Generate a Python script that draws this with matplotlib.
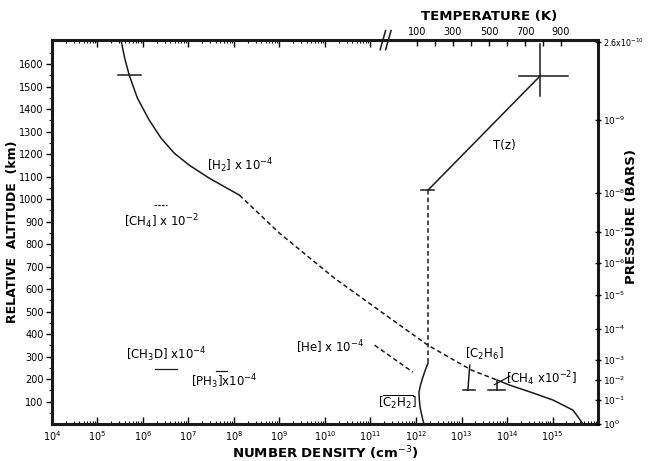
import matplotlib.pyplot as plt
import numpy as np
from matplotlib.ticker import FixedLocator, NullFormatter, NullLocator

# H2 profile, log10 number density vs altitude (km)
h2_upper_logn = [5.52, 5.60, 5.70, 5.88, 6.14, 6.40, 6.69, 7.02, 7.46, 8.12]
h2_upper_alt = [1707, 1627, 1551, 1449, 1351, 1271, 1204, 1151, 1093, 1018]
h2_mid_logn = [8.12, 9.00, 10.2, 11.49, 12.26, 13.22, 13.78]
h2_mid_alt = [1018, 849, 650, 462, 351, 240, 196]
h2_low_logn = [13.78, 14.06, 14.55, 15.01, 15.45, 15.67]
h2_low_alt = [196, 173, 140, 107, 62, 0]

# He profile (dashed segment)
he_logn = [11.09, 11.93]
he_alt = [351, 231]

# temperature profile (K)
t_dash_T = [161, 161]
t_dash_alt = [1040, 271]
t_low_T = [161, 146, 133, 120, 111, 113, 117, 125, 133, 139]
t_low_alt = [271, 240, 209, 175, 142, 110, 76, 45, 18, 0]
t_up_T = [161, 783]
t_up_alt = [1040, 1547]

# pressure axis
p_alt = [1700, 1351, 1027, 853, 716, 573, 422, 284, 196, 107, 0]
p_labels = [r'2.6x10$^{-10}$', r'10$^{-9}$', r'10$^{-8}$', r'10$^{-7}$', r'10$^{-6}$',
            r'10$^{-5}$', r'10$^{-4}$', r'10$^{-3}$', r'10$^{-2}$', r'10$^{-1}$', r'10$^{0}$']

decades = list(range(4, 17))
temp_ticks = [100, 200, 300, 400, 500, 600, 700, 800, 900]

fig = plt.figure(figsize=(6.48, 4.61), dpi=100)
ax = fig.add_axes([0.080, 0.080, 0.843, 0.833])
ax.set_xscale('log')
ax.set_xlim(1e4, 1e16)
ax.set_ylim(0, 1707)

lw = 1.1
k = '#1a1a1a'
ax.plot(10**np.array(h2_upper_logn), h2_upper_alt, color=k, lw=lw)
ax.plot(10**np.array(h2_mid_logn), h2_mid_alt, color=k, lw=lw, ls=(0, (3, 2)))
ax.plot(10**np.array(h2_low_logn), h2_low_alt, color=k, lw=lw)
ax.plot(10**np.array(he_logn), he_alt, color=k, lw=lw, ls=(0, (3, 2)))

# error bars / markers
ax.plot([10**5.45, 10**5.96], [1551, 1551], color=k, lw=lw)
ax.plot([10**6.25, 10**6.54], [973, 973], color=k, lw=0.9, ls=(0, (2, 1)))
ax.plot([10**6.27, 10**6.75], [244, 244], color=k, lw=0.9)
ax.plot([10**7.6, 10**7.85], [235, 235], color=k, lw=0.9)
# C2H6
ax.plot([10**13.18, 10**13.14], [262, 151], color=k, lw=lw)
ax.plot([10**13.03, 10**13.30], [151, 151], color=k, lw=lw)
# CH4
ax.plot([10**13.78, 10**13.78], [190, 151], color=k, lw=lw)
ax.plot([10**13.58, 10**13.96], [151, 151], color=k, lw=lw)
ax.plot([10**13.72, 10**14.06], [175, 213], color=k, lw=0.9)

# labels in plot
fs = 8.5
ax.text(10**8.14, 1151, r'[H$_2$] x 10$^{-4}$', fontsize=fs, ha='center', va='center')
ax.text(10**6.4, 898, r'[CH$_4$] x 10$^{-2}$', fontsize=fs, ha='center', va='center')
ax.text(10**6.51, 307, r'[CH$_3$D] x10$^{-4}$', fontsize=fs, ha='center', va='center')
ax.text(10**7.79, 191, r'[PH$_3$]x10$^{-4}$', fontsize=fs, ha='center', va='center')
ax.text(10**10.1, 342, r'[He] x 10$^{-4}$', fontsize=fs, ha='center', va='center')
ax.text(10**13.51, 312, r'[C$_2$H$_6$]', fontsize=fs, ha='center', va='center')
ax.text(10**14.75, 204, r'[CH$_4$ x10$^{-2}$]', fontsize=fs, ha='center', va='center')
ax.text(10**11.6, 98, r'[$\overline{\mathrm{C_2H_2}}$]', fontsize=fs, ha='center', va='center')
ax.text(10**13.95, 1240, 'T(z)', fontsize=fs, ha='center', va='center')

# bottom axis
ax.xaxis.set_major_locator(FixedLocator([10.0**d for d in decades]))
ax.set_xticklabels([r'10$^{%d}$' % d if d < 16 else '' for d in decades], fontsize=7)
minor = [m * 10.0**d for d in decades[:-1] for m in range(2, 10)]
ax.xaxis.set_minor_locator(FixedLocator(minor))
ax.xaxis.set_minor_formatter(NullFormatter())
ax.tick_params(axis='x', which='major', direction='in', length=5, width=1, top=False)
ax.tick_params(axis='x', which='minor', direction='in', length=2.5, width=0.8, top=False)
ax.set_xlabel(r'NUMBER DENSITY (cm$^{-3}$)', fontsize=9.5, fontweight='bold', labelpad=1)

# left axis
ax.set_yticks(range(100, 1700, 100))
ax.set_yticklabels([str(v) for v in range(100, 1700, 100)], fontsize=7)
ax.yaxis.set_minor_locator(FixedLocator(list(range(50, 1700, 100))))
ax.tick_params(axis='y', which='major', direction='out', length=4, width=1, right=False, pad=2)
ax.tick_params(axis='y', which='minor', direction='out', length=2, width=0.8, right=False)
ax.set_ylabel('RELATIVE  ALTITUDE  (km)', fontsize=9, fontweight='bold')
ax.yaxis.set_label_coords(-0.072, 0.5)
ax.yaxis.label.set_va('center')

for s in ax.spines.values():
    s.set_linewidth(2.2)
    s.set_color(k)

# top log ticks (density) up to the break
top = ax.secondary_xaxis('top')
top.xaxis.set_major_locator(FixedLocator([10.0**d for d in decades if d <= 11]))
top.xaxis.set_minor_locator(FixedLocator([v for v in minor if v < 10**11.25]))
top.xaxis.set_major_formatter(NullFormatter())
top.xaxis.set_minor_formatter(NullFormatter())
top.tick_params(which='major', direction='in', length=5, width=1)
top.tick_params(which='minor', direction='in', length=2.5, width=0.8)
top.spines['top'].set_visible(False)

# temperature axis
ax2 = ax.twiny()
ax2.set_xlim(-1928, 1106)
ax2.plot(t_dash_T, t_dash_alt, color=k, lw=lw, ls=(0, (3, 2)))
ax2.plot(t_low_T, t_low_alt, color=k, lw=lw)
ax2.plot(t_up_T, t_up_alt, color=k, lw=lw)
ax2.plot([125, 195], [1040, 1040], color=k, lw=lw)
ax2.plot([667, 939], [1547, 1547], color=k, lw=lw)
ax2.plot([783, 783], [1458, 1690], color=k, lw=lw)
ax2.xaxis.set_major_locator(FixedLocator(temp_ticks))
ax2.set_xticklabels([str(t) if t % 200 == 100 else '' for t in temp_ticks], fontsize=7)
ax2.xaxis.set_minor_locator(NullLocator())
ax2.tick_params(axis='x', direction='in', length=4, width=1, pad=2)
ax2.set_xlabel('TEMPERATURE (K)', fontsize=9.5, fontweight='bold')
ax2.xaxis.set_label_coords(0.80, 1.052)
for s in ax2.spines.values():
    s.set_visible(False)

# break marks on top axis
for dx in (-0.006, 0.004):
    ax.plot([0.607 + dx, 0.617 + dx], [0.975, 1.025], transform=ax.transAxes,
            color=k, lw=1.1, clip_on=False)

# pressure axis
ax3 = ax.twinx()
ax3.set_ylim(0, 1707)
ax3.set_yticks(p_alt)
ax3.set_yticklabels(p_labels, fontsize=6.5)
ax3.get_yticklabels()[0].set_fontsize(5.8)
ax3.tick_params(axis='y', direction='inout', length=5, width=1, pad=1)
ax3.set_ylabel('PRESSURE (BARS)', fontsize=9.5, fontweight='bold')
ax3.yaxis.set_label_coords(1.062, 0.54)
ax3.yaxis.label.set_va('center')
for s in ax3.spines.values():
    s.set_visible(False)

fig.savefig('out.png', dpi=100)
